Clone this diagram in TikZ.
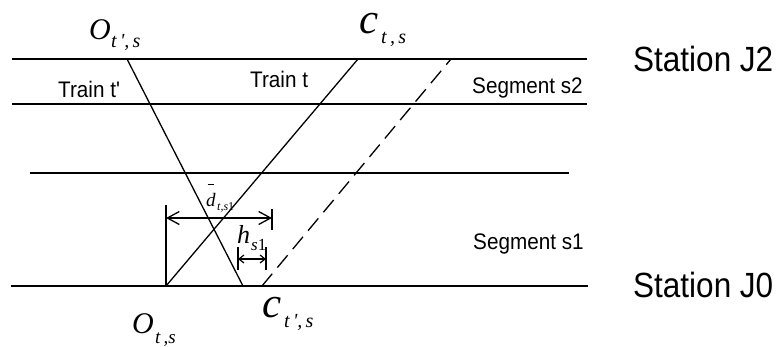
\documentclass[tikz,border=0pt]{standalone}
\usepackage{fontspec}
\setmainfont{Liberation Serif}
\newfontfamily\lab[FakeStretch=0.92]{Liberation Sans}
\newfontfamily\stat[FakeStretch=0.9]{Liberation Sans}
\usetikzlibrary{arrows.meta}
\newcommand{\pr}{\textquotesingle}
\tikzset{
  track/.style={line width=1.3pt},
  train/.style={line width=1.3pt},
  dimline/.style={line width=1.3pt},
  bigarr/.style={dimline,{Straight Barb[length=12pt,width=13pt,line width=1.3pt]}-{Straight Barb[length=12pt,width=13pt,line width=1.3pt]}},
  smallarr/.style={dimline,{Straight Barb[length=5pt,width=8pt,line width=1.2pt]}-{Straight Barb[length=5pt,width=8pt,line width=1.2pt]}},
  txt/.style={inner sep=0pt,anchor=base west},
  small/.style={txt,font=\lab\fontsize{22.5}{24}\selectfont},
  station/.style={txt,font=\stat\fontsize{35}{38}\selectfont},
}
\begin{document}
\begin{tikzpicture}[x=1pt,y=-1pt]
\useasboundingbox (0,0) rectangle (776,346);
% tracks
\coordinate (L1a) at (12,59);  \coordinate (L1b) at (587,59);
\coordinate (L2a) at (12,104); \coordinate (L2b) at (587,104);
\coordinate (L3a) at (30,173); \coordinate (L3b) at (569,173);
\coordinate (L4a) at (11,286); \coordinate (L4b) at (588,286);
\draw[track] (L1a) -- (L1b);
\draw[track] (L2a) -- (L2b);
\draw[track] (L3a) -- (L3b);
\draw[track] (L4a) -- (L4b);
% trains
\coordinate (tpA) at (127,59);  \coordinate (tpB) at (243,286);
\coordinate (tA) at (166,286);  \coordinate (tB) at (358,59);
\coordinate (dA) at (262,286);  \coordinate (dB) at (451,59);
\draw[train] (tpA) -- (tpB);
\draw[train] (tA) -- (tB);
\draw[train,dash pattern=on 16pt off 8pt] (dA) -- (dB);
% dimension d
\coordinate (dv) at (166,205);
\coordinate (r1) at (272,209); \coordinate (r2) at (272,230);
\coordinate (da1) at (166,218); \coordinate (da2) at (272,218);
\draw[dimline] (tA) -- (dv);
\draw[dimline] (r1) -- (r2);
\draw[bigarr] (da1) -- (da2);
% dimension h
\coordinate (h1a) at (238,247); \coordinate (h1b) at (238,270);
\coordinate (h2a) at (266,247); \coordinate (h2b) at (266,270);
\coordinate (ha1) at (238,259); \coordinate (ha2) at (266,259);
\draw[dimline] (h1a) -- (h1b);
\draw[dimline] (h2a) -- (h2b);
\draw[smallarr] (ha1) -- (ha2);
% math labels
\node[txt,font=\itshape\fontsize{30}{30}\selectfont] (O1) at (89,39) {O};
\node[txt,font=\itshape\fontsize{20}{20}\selectfont] (O1s) at (111,47) {t\,\pr,\,s};
\node[txt,font=\itshape\fontsize{43}{43}\selectfont] (c1) at (359,33) {c};
\node[txt,font=\itshape\fontsize{20}{20}\selectfont] (c1s) at (381,43) {t\,,\,s};
\node[txt,font=\itshape\fontsize{30}{30}\selectfont] (O2) at (132,333) {O};
\node[txt,font=\itshape\fontsize{19}{19}\selectfont] (O2s) at (155,343) {t\,,s};
\node[txt,font=\itshape\fontsize{43}{43}\selectfont] (c2) at (262,317) {c};
\node[txt,font=\itshape\fontsize{20}{20}\selectfont] (c2s) at (284,327) {t\,\pr,\,s};
\node[txt,font=\itshape\fontsize{19}{19}\selectfont] (d) at (206,206) {d};
\draw[line width=0.8pt] (207.5,184) -- (214,184);
\node[txt,font=\itshape\fontsize{12}{12}\selectfont] (ds) at (217,210) {t,s\upshape 1};
\node[txt,font=\itshape\fontsize{26}{26}\selectfont] (h) at (237,243) {h};
\node[txt,font=\itshape\fontsize{17}{17}\selectfont] (hs) at (251,250) {s\upshape 1};
% text labels
\node[small] (trp) at (58,97) {Train t'};
\node[small] (tr) at (250,87) {Train t};
\node[small] (s2) at (472,93) {Segment s2};
\node[small] (s1) at (473,249) {Segment s1};
\node[station] (j2) at (633,71) {Station J2};
\node[station] (j0) at (633,297) {Station J0};
\end{tikzpicture}
\end{document}
